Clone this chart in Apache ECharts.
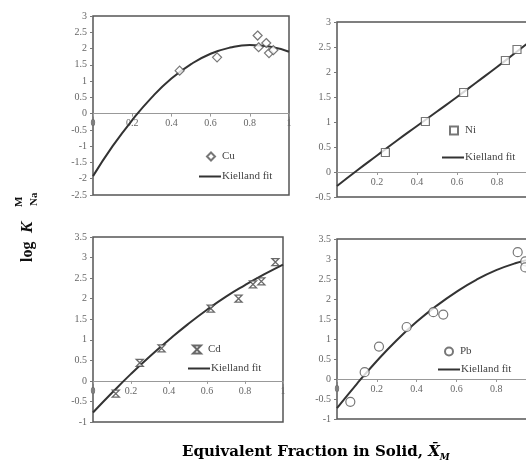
<!DOCTYPE html>
<html>
<head>
    <meta charset="utf-8">
    <script src="https://cdn.jsdelivr.net/npm/echarts@6/dist/echarts.min.js"></script>
    <style type="text/css">
        body { margin: 0; background: #fff; }
        #chart { width: 526px; height: 461px; }
    </style>
</head>
<body>
<div id="chart"></div>
<script>
    // 实测点 (x = equivalent fraction, y = log K)
    var cuX = [0.442, 0.633, 0.840, 0.845, 0.884, 0.898, 0.920];
    var cuY = [1.32, 1.73, 2.40, 2.04, 2.17, 1.86, 1.95];
    var niX = [0.242, 0.442, 0.633, 0.842, 0.900];
    var niY = [0.39, 1.01, 1.59, 2.23, 2.45];
    var cdX = [0.120, 0.246, 0.361, 0.620, 0.766, 0.842, 0.886, 0.960];
    var cdY = [-0.31, 0.44, 0.79, 1.76, 2.00, 2.35, 2.42, 2.89];
    var pbX = [0.067, 0.139, 0.211, 0.350, 0.484, 0.534, 0.908, 0.946, 0.946];
    var pbY = [-0.57, 0.17, 0.81, 1.30, 1.67, 1.61, 3.17, 2.94, 2.79];

    // Kielland fit
    var fitX = [0, 0.1, 0.2, 0.3, 0.4, 0.5, 0.6, 0.7, 0.8, 0.9, 1.0];
    var cuFit = [-1.92, -1.00, -0.20, 0.50, 1.08, 1.52, 1.84, 2.03, 2.11, 2.06, 1.90];
    var niFit = [-0.28, 0.03, 0.33, 0.63, 0.92, 1.21, 1.50, 1.80, 2.10, 2.41, 2.72];
    var cdFit = [-0.77, -0.29, 0.17, 0.60, 1.00, 1.38, 1.73, 2.05, 2.33, 2.59, 2.83];
    var pbFit = [-0.73, -0.12, 0.45, 0.97, 1.43, 1.83, 2.18, 2.48, 2.72, 2.90, 3.03];

    function pairs(xs, ys) {
        return xs.map(function (x, i) { return [x, ys[i]]; });
    }

    var serif = 'Liberation Serif';
    var lblColor = '#666';

    // offset: x 轴画在 y=0 处 (距网格底边的像素)
    function xAx(grid, offset, hideMin) {
        return {
            gridIndex: grid, type: 'value', min: 0, max: 1, interval: 0.2,
            position: 'bottom', offset: -offset,
            axisLine: { onZero: false, lineStyle: { color: '#999', width: 1 } },
            axisTick: { show: true, length: 3, lineStyle: { color: '#999' } },
            axisLabel: { fontFamily: serif, fontSize: 10, color: lblColor, margin: 5, showMinLabel: !hideMin },
            splitLine: { show: false }
        };
    }
    function yAx(grid, min, max) {
        return {
            gridIndex: grid, type: 'value', min: min, max: max, interval: 0.5,
            axisLine: { show: false },
            axisTick: { show: true, length: 3, lineStyle: { color: '#777' } },
            axisLabel: { fontFamily: serif, fontSize: 10, color: lblColor, margin: 6 },
            splitLine: { show: false }
        };
    }
    function gridBox(left, top, width, height) {
        return { left: left, top: top, width: width, height: height, show: true,
            outerBoundsMode: 'none', containLabel: false,
            borderColor: '#555', borderWidth: 1.5, backgroundColor: 'transparent' };
    }
    function fitLine(idx, ys) {
        return {
            name: 'Kielland fit', type: 'line', xAxisIndex: idx, yAxisIndex: idx,
            data: pairs(fitX, ys), smooth: true, symbol: 'none',
            lineStyle: { color: '#333', width: 2 }, itemStyle: { color: '#333' }, z: 3
        };
    }
    function pts(idx, name, xs, ys, symbol, size) {
        return {
            name: name, type: 'scatter', xAxisIndex: idx, yAxisIndex: idx,
            data: pairs(xs, ys), symbol: symbol, symbolSize: size,
            itemStyle: { color: '#fff', borderColor: '#555', borderWidth: 1.2 }, z: 4
        };
    }
    function lgPt(name, left, top) {
        return {
            data: [name], left: left, top: top, padding: 0, itemWidth: 8, itemHeight: 8,
            selectedMode: false,
            textStyle: { fontFamily: serif, fontSize: 11, color: '#444', padding: [0, 0, 0, 2] }
        };
    }
    function lgFit(left, top) {
        return {
            data: [{ name: 'Kielland fit', icon: 'rect', itemStyle: { color: '#333' } }],
            left: left, top: top, padding: 0, itemWidth: 22, itemHeight: 2,
            selectedMode: false,
            textStyle: { fontFamily: serif, fontSize: 11, color: '#444', padding: [0, 0, 0, -4] }
        };
    }

    var hourglass = 'path://M0,0L10,0L0,10L10,10Z';

    var chart = echarts.init(document.getElementById('chart'));
    var option = {
        backgroundColor: '#fff',
        animation: false,
        grid: [
            gridBox(93, 16, 196, 179),
            gridBox(337, 22, 200, 175),
            gridBox(93, 237, 190, 185),
            gridBox(337, 239, 199, 180)
        ],
        xAxis: [xAx(0, 81.4), xAx(1, 25, true), xAx(2, 41.1), xAx(3, 40)],
        yAxis: [yAx(0, -2.5, 3), yAx(1, -0.5, 3), yAx(2, -1, 3.5), yAx(3, -1, 3.5)],
        legend: [
            lgPt('Cu', 206, 151),
            lgFit(199, 171),
            lgPt('Ni', 449, 125),
            lgFit(442, 152),
            lgPt('Cd', 192, 344),
            lgFit(188, 363),
            lgPt('Pb', 444, 346),
            lgFit(438, 364)
        ],
        series: [
            fitLine(0, cuFit), pts(0, 'Cu', cuX, cuY, 'diamond', 9),
            fitLine(1, niFit), pts(1, 'Ni', niX, niY, 'rect', 8),
            fitLine(2, cdFit), {
                name: 'Cd', type: 'scatter', xAxisIndex: 2, yAxisIndex: 2,
                data: pairs(cdX, cdY), symbol: hourglass, symbolSize: 7,
                itemStyle: { color: '#fff', borderColor: '#444', borderWidth: 1.3 }, z: 4
            },
            fitLine(3, pbFit), pts(3, 'Pb', pbX, pbY, 'circle', 9)
        ],
        graphic: [
            {   // y 轴标题
                type: 'group', x: 28, y: 262, rotation: Math.PI / 2,
                children: [
                    { type: 'text', x: 0, y: 0, style: { text: 'log', font: 'bold 16px "Liberation Serif"', fill: '#111', textVerticalAlign: 'middle' } },
                    { type: 'text', x: 29, y: 0, style: { text: 'K', font: 'italic bold 17px "Liberation Serif"', fill: '#111', textVerticalAlign: 'middle' } },
                    { type: 'text', x: 55, y: -9, style: { text: 'M', font: 'bold 11px "Liberation Serif"', fill: '#111', textVerticalAlign: 'middle' } },
                    { type: 'text', x: 56, y: 6, style: { text: 'Na', font: 'bold 11px "Liberation Serif"', fill: '#111', textVerticalAlign: 'middle' } }
                ]
            },
            {   // x 轴标题
                type: 'text', x: 182, y: 452,
                style: {
                    text: '{a|Equivalent Fraction in Solid, }{x|X\u0304}{m|M}',
                    textVerticalAlign: 'middle',
                    rich: {
                        a: { fontFamily: 'DejaVu Serif', fontWeight: 'bold', fontSize: 15, color: '#111', lineHeight: 20 },
                        x: { fontFamily: 'DejaVu Serif', fontWeight: 'bold', fontStyle: 'italic', fontSize: 15, color: '#111', lineHeight: 20 },
                        m: { fontFamily: 'DejaVu Serif', fontWeight: 'bold', fontStyle: 'italic', fontSize: 9, color: '#111', lineHeight: 20, verticalAlign: 'bottom' }
                    }
                }
            }
        ]
    };
    chart.setOption(option);
</script>
</body>
</html>
